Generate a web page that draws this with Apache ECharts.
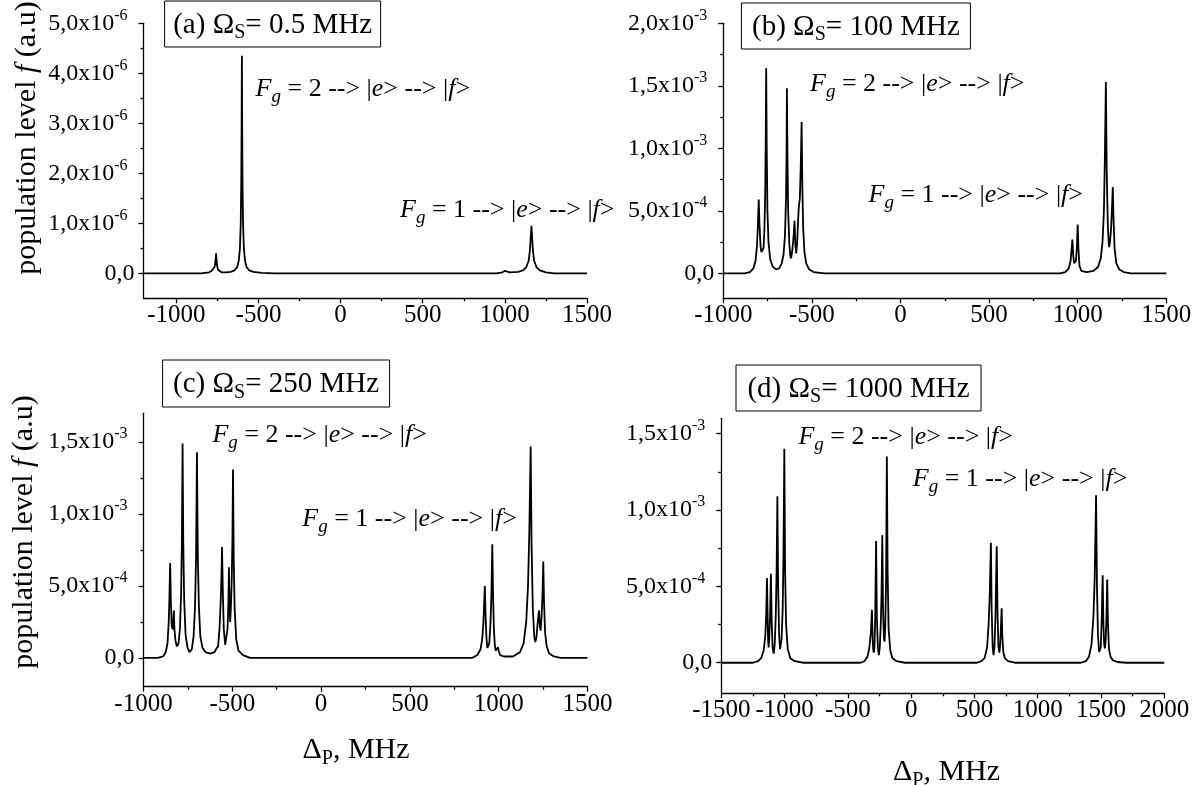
<!DOCTYPE html>
<html>
<head>
<meta charset="utf-8">
<script src="https://cdn.jsdelivr.net/npm/echarts@6.0.0/dist/echarts.min.js"></script>
<style>
  html, body { margin: 0; padding: 0; background: #fff; }
  #chart { width: 1204px; height: 785px; }
</style>
</head>
<body>
<div id="chart"></div>
<script>
// ---- data (detuning in MHz, level in units of the panel scale) ----
// (a) Omega_S = 0.5 MHz, level x 1e-6
const detuningA = [-1200, -850, -800, -785, -775, -768, -763, -760, -758, -756, -752, -746, -738, -725, -700,
  -670, -645, -630, -620, -613, -608, -605, -603, -601, -599, -597, -594, -589, -582, -572, -557, -530, -480, -400,
  950, 985, 1000, 1004, 1010, 1030, 1080, 1110, 1130, 1145, 1152, 1157, 1162, 1166, 1171, 1178, 1193, 1213, 1250, 1300, 1500];
const levelA = [0, 0, 0.02, 0.05, 0.09, 0.12, 0.2, 0.32, 0.4, 0.3, 0.15, 0.07, 0.04, 0.02, 0.02,
  0.03, 0.06, 0.12, 0.25, 0.5, 1.0, 1.8, 2.8, 4.35, 2.8, 1.8, 1.0, 0.5, 0.25, 0.12, 0.06, 0.03, 0.01, 0,
  0, 0.02, 0.05, 0.06, 0.04, 0.02, 0.03, 0.06, 0.12, 0.25, 0.45, 0.7, 0.95, 0.7, 0.45, 0.25, 0.12, 0.06, 0.02, 0, 0];

// (b) Omega_S = 100 MHz, level x 1e-3
const detuningB = [-1000, -880, -850, -830, -818, -810, -805, -800, -796, -790, -785, -779, -773, -768, -764, -761, -758,
  -755, -751, -745, -735, -720, -700, -685, -670, -660, -652, -646, -643, -641, -638, -634, -628, -622, -618, -614,
  -608, -602, -598, -594, -589, -583, -578, -574, -568, -563, -558, -554, -549, -542, -532, -515, -490, -430,
  900, 930, 950, 960, 966, 970, 975, 980, 985, 990, 995, 1000, 1004, 1010, 1020, 1050, 1090, 1115, 1130, 1140,
  1148, 1153, 1159, 1164, 1170, 1175, 1178, 1182, 1188, 1193, 1198, 1202, 1208, 1218, 1235, 1260, 1300, 1500];
const levelB = [0, 0, 0.01, 0.04, 0.1, 0.22, 0.38, 0.59, 0.4, 0.22, 0.17, 0.16, 0.2, 0.35, 0.6, 1.0, 1.64,
  1.0, 0.5, 0.25, 0.11, 0.05, 0.03, 0.04, 0.08, 0.15, 0.3, 0.6, 0.95, 1.48, 0.95, 0.5, 0.25, 0.14, 0.12, 0.15,
  0.22, 0.32, 0.42, 0.25, 0.16, 0.25, 0.42, 0.53, 0.6, 0.85, 1.21, 0.7, 0.35, 0.17, 0.08, 0.03, 0.01, 0,
  0, 0.01, 0.04, 0.1, 0.2, 0.27, 0.14, 0.08, 0.07, 0.1, 0.2, 0.39, 0.2, 0.06, 0.02, 0.01, 0.02, 0.05, 0.12, 0.25,
  0.5, 0.9, 1.53, 0.8, 0.38, 0.24, 0.21, 0.25, 0.35, 0.5, 0.69, 0.45, 0.2, 0.08, 0.03, 0.01, 0, 0];

// (c) Omega_S = 250 MHz, level x 1e-3
const detuningC = [-1000, -920, -890, -875, -865, -858, -854, -850, -846, -841, -836, -832, -829, -826, -820, -812,
  -803, -795, -788, -784, -780, -776, -771, -763, -752, -741, -728, -718, -710, -704, -699, -694, -688, -680, -668,
  -650, -625, -600, -592, -588, -580, -572, -565, -561, -558, -554, -548, -540, -533, -527, -522, -519, -516, -512,
  -508, -503, -499, -496, -492, -487, -478, -465, -440, -400,
  850, 880, 898, 908, 914, 918, 922, 926, 931, 936, 941, 947, 954, 959, 964, 968, 973, 978, 983, 990, 996, 1000,
  1008, 1030, 1080, 1120, 1140, 1155, 1165, 1172, 1180, 1185, 1192, 1200, 1206, 1212, 1220, 1227, 1232, 1236,
  1241, 1246, 1251, 1255, 1261, 1270, 1285, 1310, 1350, 1500];
const levelC = [0, 0, 0.01, 0.04, 0.1, 0.25, 0.42, 0.66, 0.4, 0.22, 0.2, 0.26, 0.33, 0.2, 0.12, 0.08,
  0.1, 0.2, 0.45, 0.8, 1.49, 0.8, 0.4, 0.16, 0.07, 0.04, 0.06, 0.15, 0.35, 0.7, 1.43, 0.7, 0.35, 0.15, 0.07,
  0.04, 0.03, 0.04, 0.06, 0.05, 0.08, 0.2, 0.4, 0.56, 0.77, 0.5, 0.2, 0.09, 0.1, 0.2, 0.38, 0.63, 0.4, 0.25,
  0.35, 0.55, 0.85, 1.31, 0.7, 0.35, 0.13, 0.05, 0.02, 0,
  0, 0.02, 0.06, 0.14, 0.25, 0.38, 0.5, 0.3, 0.14, 0.07, 0.06, 0.1, 0.25, 0.45, 0.79, 0.45, 0.2, 0.09, 0.05, 0.06, 0.075, 0.05,
  0.02, 0.01, 0.01, 0.04, 0.1, 0.25, 0.5, 0.85, 1.47, 0.8, 0.35, 0.15, 0.11, 0.14, 0.25, 0.33, 0.22, 0.19,
  0.28, 0.42, 0.67, 0.4, 0.18, 0.08, 0.03, 0.01, 0, 0];

// (d) Omega_S = 1000 MHz, level x 1e-3
const detuningD = [-1500, -1250, -1210, -1185, -1165, -1152, -1145, -1139, -1134, -1130, -1126, -1121, -1115, -1108,
  -1102, -1095, -1086, -1078, -1070, -1063, -1057, -1051, -1043, -1036, -1031, -1024, -1015, -1009, -1002, -996,
  -988, -975, -955, -920, -850,
  -400, -370, -345, -330, -318, -310, -304, -299, -295, -290, -284, -277, -271, -263, -255, -248, -240, -234, -228,
  -222, -215, -210, -204, -198, -192, -186, -178, -165, -148, -115, -50,
  520, 555, 580, 600, 612, 621, 630, 636, 644, 651, 658, 666, 676, 683, 690, 697, 704, 710, 715, 720, 728, 740, 765, 820,
  1340, 1380, 1405, 1425, 1440, 1450, 1461, 1468, 1476, 1485, 1491, 1498, 1506, 1513, 1519, 1525, 1531, 1537, 1543,
  1549, 1555, 1563, 1575, 1595, 1630, 1700, 2000];
const levelD = [0, 0, 0.01, 0.03, 0.08, 0.18, 0.32, 0.555, 0.3, 0.14, 0.1, 0.16, 0.3, 0.583,
  0.28, 0.1, 0.06, 0.12, 0.3, 0.6, 1.09, 0.5, 0.18, 0.09, 0.083, 0.15, 0.35, 0.7, 1.4, 0.6,
  0.25, 0.09, 0.03, 0.01, 0,
  0, 0.01, 0.04, 0.1, 0.2, 0.346, 0.15, 0.08, 0.066, 0.1, 0.3, 0.796, 0.3, 0.1, 0.05, 0.1, 0.25, 0.45, 0.835,
  0.35, 0.16, 0.138, 0.25, 0.55, 1.35, 0.6, 0.22, 0.08, 0.03, 0.01, 0,
  0, 0.01, 0.03, 0.1, 0.25, 0.45, 0.785, 0.35, 0.1, 0.05, 0.1, 0.3, 0.763, 0.3, 0.1, 0.066, 0.12, 0.25, 0.357, 0.18, 0.07, 0.03, 0.01, 0,
  0, 0.01, 0.04, 0.12, 0.3, 0.55, 1.096, 0.5, 0.18, 0.07, 0.057, 0.1, 0.3, 0.572, 0.25, 0.12, 0.094, 0.15, 0.3,
  0.544, 0.25, 0.09, 0.04, 0.015, 0.005, 0, 0];

// tick values
const xTicksA = [-1000, -500, 0, 500, 1000, 1500];
const xMinorA = [-750, -250, 250, 750, 1250];
const xTicksD = [-1500, -1000, -500, 0, 500, 1000, 1500, 2000];
const xMinorD = [-1250, -750, -250, 250, 750, 1250, 1750];
const yTicksA = [0, 1e-6, 2e-6, 3e-6, 4e-6, 5e-6];
const yMinorA = [0.5e-6, 1.5e-6, 2.5e-6, 3.5e-6, 4.5e-6];
const yTicksB = [0, 0.5e-3, 1.0e-3, 1.5e-3, 2.0e-3];
const yMinorB = [0.25e-3, 0.75e-3, 1.25e-3, 1.75e-3];
const yTicksC = [0, 0.5e-3, 1.0e-3, 1.5e-3];
const yMinorC = [0.25e-3, 0.75e-3, 1.25e-3];

const FONT = '"Liberation Serif", "Times New Roman", serif';
const BLACK = '#000';

const panels = [
  { grid: { left: 143.5, top: 23.3, width: 443.5, height: 275 }, xMin: -1200, xMax: 1500, yMin: -0.5e-6, yMax: 5e-6,
    xTicks: xTicksA, xMinor: xMinorA, yTicks: yTicksA, yMinor: yMinorA, x: detuningA, y: levelA, scale: 1e-6 },
  { grid: { left: 723.3, top: 23.3, width: 443, height: 275 }, xMin: -1000, xMax: 1500, yMin: -0.2e-3, yMax: 2.0e-3,
    xTicks: xTicksA, xMinor: xMinorA, yTicks: yTicksB, yMinor: yMinorB, x: detuningB, y: levelB, scale: 1e-3 },
  { grid: { left: 143.5, top: 413.3, width: 444, height: 273.4 }, xMin: -1000, xMax: 1500, yMin: -0.2e-3, yMax: 1.7e-3,
    xTicks: xTicksA, xMinor: xMinorA, yTicks: yTicksC, yMinor: yMinorC, x: detuningC, y: levelC, scale: 1e-3 },
  { grid: { left: 721.3, top: 418.3, width: 443, height: 275 }, xMin: -1500, xMax: 2000, yMin: -0.2e-3, yMax: 1.6e-3,
    xTicks: xTicksD, xMinor: xMinorD, yTicks: yTicksC, yMinor: yMinorC, x: detuningD, y: levelD, scale: 1e-3 }
];

// "5,0x10^-4" style labels
function sciLabel(v) {
  if (Math.abs(v) < 1e-15) return '{m|0,0}';
  const e = Math.floor(Math.log10(v) + 1e-9);
  const m = (v / Math.pow(10, e)).toFixed(1).replace('.', ',');
  return '{m|' + m + 'x10}{e|' + e + '}';
}

const lineStyle = { color: BLACK, width: 1.3 };
const grids = [], xAxes = [], yAxes = [], series = [];

panels.forEach((p, i) => {
  grids.push(Object.assign({ outerBoundsMode: 'none', containLabel: false }, p.grid));
  // main x axis
  xAxes.push({
    gridIndex: i, type: 'value', min: p.xMin, max: p.xMax, position: 'bottom',
    axisLine: { show: true, onZero: false, lineStyle },
    axisTick: { show: true, inside: false, length: 5, customValues: p.xTicks, lineStyle },
    axisLabel: { customValues: p.xTicks, color: BLACK, fontFamily: FONT, fontSize: 25, margin: 5,
      formatter: (v) => String(v) },
    splitLine: { show: false }
  });
  // minor x ticks
  xAxes.push({
    gridIndex: i, type: 'value', min: p.xMin, max: p.xMax, position: 'bottom',
    axisLine: { show: false, onZero: false },
    axisTick: { show: true, inside: false, length: 3, customValues: p.xMinor, lineStyle },
    axisLabel: { show: false }, splitLine: { show: false }
  });
  yAxes.push({
    gridIndex: i, type: 'value', min: p.yMin, max: p.yMax, position: 'left',
    axisLine: { show: true, onZero: false, lineStyle },
    axisTick: { show: true, inside: false, length: 5, customValues: p.yTicks, lineStyle },
    axisLabel: {
      customValues: p.yTicks, margin: 9, formatter: sciLabel,
      rich: {
        m: { fontFamily: FONT, fontSize: 24, color: BLACK, lineHeight: 32 },
        e: { fontFamily: FONT, fontSize: 16, color: BLACK, lineHeight: 16, verticalAlign: 'top', padding: [0, 7, 0, 0] }
      }
    },
    splitLine: { show: false }
  });
  yAxes.push({
    gridIndex: i, type: 'value', min: p.yMin, max: p.yMax, position: 'left',
    axisLine: { show: false, onZero: false },
    axisTick: { show: true, inside: false, length: 3, customValues: p.yMinor, lineStyle },
    axisLabel: { show: false }, splitLine: { show: false }
  });
  series.push({
    type: 'line', xAxisIndex: 2 * i, yAxisIndex: 2 * i,
    data: p.x.map((x, k) => [x, p.y[k] * p.scale]),
    showSymbol: false, symbol: 'none', silent: true,
    lineStyle: { color: BLACK, width: 1.8 }
  });
});

// text pieces
const mainRich = {
  t: { fontFamily: FONT, fontSize: 29, color: BLACK, lineHeight: 36 },
  s: { fontFamily: FONT, fontSize: 20, color: BLACK, lineHeight: 20, verticalAlign: 'bottom' }
};
const noteRich = {
  F: { fontFamily: FONT, fontSize: 26, fontStyle: 'italic', color: BLACK, lineHeight: 34 },
  g: { fontFamily: FONT, fontSize: 19, fontStyle: 'italic', color: BLACK, lineHeight: 19, verticalAlign: 'bottom' },
  t: { fontFamily: FONT, fontSize: 26, color: BLACK, lineHeight: 34 },
  i: { fontFamily: FONT, fontSize: 26, fontStyle: 'italic', color: BLACK, lineHeight: 34 }
};
const nameRich = {
  t: { fontFamily: FONT, fontSize: 30, color: BLACK, lineHeight: 38 },
  i: { fontFamily: FONT, fontSize: 30, fontStyle: 'italic', color: BLACK, lineHeight: 38 },
  s: { fontFamily: FONT, fontSize: 20, color: BLACK, lineHeight: 20, verticalAlign: 'bottom' }
};

function titleBox(x, y, w, h, text) {
  return [
    { type: 'rect', shape: { x, y, width: w, height: h }, style: { fill: '#fff', stroke: BLACK, lineWidth: 1 } },
    { type: 'text', x: x + w / 2, y: y + h / 2 + 1,
      style: { text, rich: mainRich, align: 'center', verticalAlign: 'middle' } }
  ];
}
function note(x, y, level) {
  return { type: 'text', x, y, style: {
    text: '{F|F}{g|g}{t| = ' + level + ' --> |}{i|e}{t|> --> |}{i|f}{t|>}',
    rich: noteRich, align: 'left', verticalAlign: 'top' } };
}
function yName(x, y) {
  return { type: 'text', x, y, rotation: Math.PI / 2, style: {
    text: '{t|population level }{i|f}{t| (a.u)}', rich: nameRich, align: 'center', verticalAlign: 'middle' } };
}
function xName(x, y) {
  return { type: 'text', x, y, style: {
    text: '{t|Δ}{s|P}{t|, MHz}', rich: nameRich, align: 'center', verticalAlign: 'middle' } };
}

const graphic = [].concat(
  titleBox(164.6, 1, 216, 46, '{t|(a) Ω}{s|S}{t|= 0.5 MHz}'),
  titleBox(741.4, 3, 229, 46, '{t|(b) Ω}{s|S}{t|= 100 MHz}'),
  titleBox(162.6, 360, 227, 47, '{t|(c) Ω}{s|S}{t|= 250 MHz}'),
  titleBox(736, 365, 245, 46, '{t|(d) Ω}{s|S}{t|= 1000 MHz}'),
  [
    note(255.6, 72, 2), note(400, 193, 1),
    note(810, 67, 2), note(868.5, 178, 1),
    note(212.4, 418, 2), note(302.3, 502, 1),
    note(798.4, 420, 2), note(912.8, 462, 1),
    yName(27, 138), yName(24, 532),
    xName(356, 750), xName(946.5, 772)
  ]
);

const chart = echarts.init(document.getElementById('chart'));
chart.setOption({
  animation: false,
  backgroundColor: '#fff',
  grid: grids,
  xAxis: xAxes,
  yAxis: yAxes,
  series,
  graphic
});
</script>
</body>
</html>
